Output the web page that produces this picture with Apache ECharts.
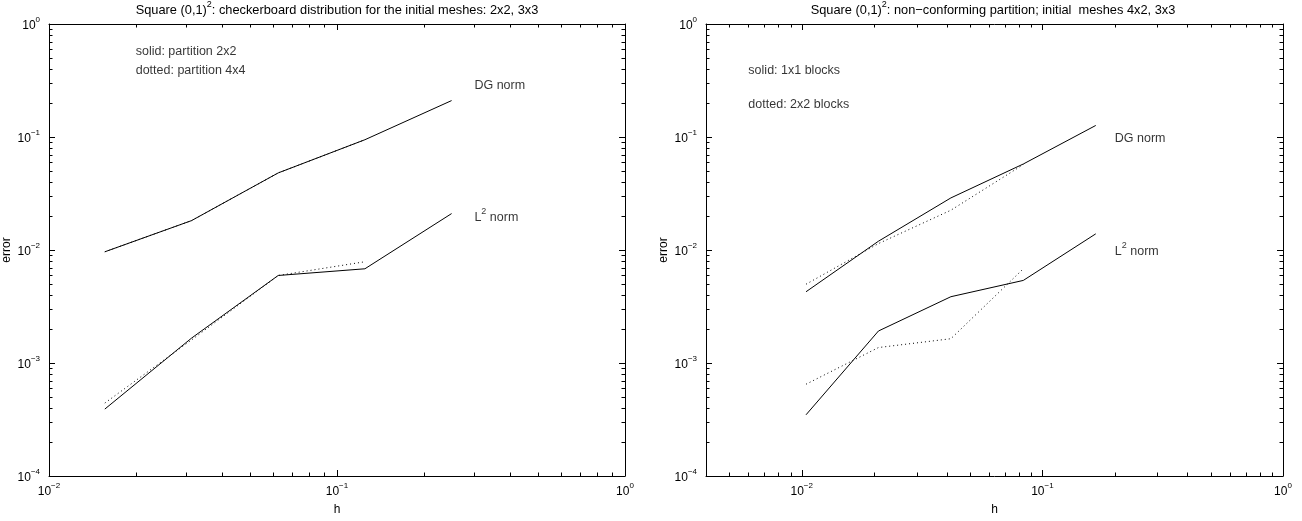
<!DOCTYPE html>
<html>
<head>
<meta charset="utf-8">
<script src="https://cdn.jsdelivr.net/npm/echarts@6/dist/echarts.min.js"></script>
<style>
  html, body { margin: 0; padding: 0; background: #fff; }
  #chart { width: 1302px; height: 521px; }
</style>
</head>
<body>
<div id="chart"></div>
<script>
// Mesh sizes h of the refinement sequences
const hLeft = [1/64, 1/32, 1/16, 1/8, 1/4];
const hRight = [1/96, 1/48, 1/24, 1/12, 1/6];

// Checkerboard distribution: solid = partition 2x2, dotted = partition 4x4
const dgSolidL = [0.00964, 0.0182, 0.0481, 0.0946, 0.210];
const l2SolidL = [0.000391, 0.00166, 0.00595, 0.00682, 0.0210];
const dgDottedL = [0.00964, 0.0182, 0.0481, 0.0946];
const l2DottedL = [0.000442, 0.00160, 0.00595, 0.00787];

// Non-conforming partition: solid = 1x1 blocks, dotted = 2x2 blocks
const dgSolidR = [0.00427, 0.01196, 0.0289, 0.0577, 0.1265];
const l2SolidR = [0.000348, 0.00192, 0.00386, 0.00538, 0.0139];
const dgDottedR = [0.00498, 0.0114, 0.0225, 0.057];
const l2DottedR = [0.000649, 0.00137, 0.00164, 0.00682];

// Axis ranges
const xRangeL = [0.01, 1];
const xRangeR = [0.004, 1];
const yRange = [1e-4, 1];

// Text notes placed in data coordinates
const notesL = [
  { x: 0.02, y: 0.6, text: '{n|solid: partition 2x2}' },
  { x: 0.02, y: 0.4, text: '{n|dotted: partition 4x4}' },
  { x: 0.3, y: 0.3, text: '{n|DG norm}' },
  { x: 0.3, y: 0.02, text: '{n|L}{s|2}{n| norm}' }
];
const notesR = [
  { x: 0.006, y: 0.4, text: '{n|solid: 1x1 blocks}' },
  { x: 0.006, y: 0.2, text: '{n|dotted: 2x2 blocks}' },
  { x: 0.2, y: 0.1, text: '{n|DG norm}' },
  { x: 0.2, y: 0.01, text: '{n|L}{s|2}{n| norm}' }
];

const titleL = '{t|Square (0,1)}{s|2}{t|: checkerboard distribution for the initial meshes: 2x2, 3x3}';
const titleR = '{t|Square (0,1)}{s|2}{t|: non\u2212conforming partition; initial  meshes 4x2, 3x3}';

const FONT = '"Liberation Sans", Arial, Helvetica, sans-serif';
const zip = (xs, ys) => ys.map((y, i) => [xs[i], y]);

// minor tick values 2..9 x 10^k inside a range
function minorValues(lo, hi) {
  const out = [];
  for (let k = Math.floor(Math.log10(lo)); k < Math.ceil(Math.log10(hi)); k++) {
    for (let m = 2; m <= 9; m++) {
      const v = m * Math.pow(10, k);
      if (v > lo * 1.0001 && v < hi * 0.9999) out.push(v);
    }
  }
  return out;
}

function minorTickData(xr) {
  const xs = minorValues(xr[0], xr[1]).map(v => [v, 0.01, 0]);
  const ys = minorValues(yRange[0], yRange[1]).map(v => [0.1, v, 1]);
  return xs.concat(ys);
}

function renderMinor(params, api) {
  const cs = params.coordSys;
  const len = 3.5;
  const style = { stroke: '#000', lineWidth: 1 };
  const p = api.coord([api.value(0), api.value(1)]);
  if (api.value(2) === 0) {
    const px = Math.round(p[0]) + 0.5;
    return { type: 'group', children: [
      { type: 'line', shape: { x1: px, y1: cs.y + cs.height, x2: px, y2: cs.y + cs.height - len }, style },
      { type: 'line', shape: { x1: px, y1: cs.y, x2: px, y2: cs.y + len }, style }
    ]};
  }
  const py = Math.round(p[1]) + 0.5;
  return { type: 'group', children: [
    { type: 'line', shape: { x1: cs.x, y1: py, x2: cs.x + len, y2: py }, style },
    { type: 'line', shape: { x1: cs.x + cs.width, y1: py, x2: cs.x + cs.width - len, y2: py }, style }
  ]};
}

const supRich = {
  b: { fontSize: 12, fontFamily: FONT, color: '#000', lineHeight: 16, verticalAlign: 'bottom' },
  e: { fontSize: 8, fontFamily: FONT, color: '#000', lineHeight: 16, verticalAlign: 'top' }
};

function decadeLabel(v) {
  const l = Math.log10(v);
  const r = Math.round(l);
  if (Math.abs(l - r) > 1e-6) return '';
  const exp = r < 0 ? '\u2212' + (-r) : String(r);
  return '{b|10}{e|' + exp + '}';
}

function xAxisPair(gridIndex, range) {
  const common = {
    type: 'log', logBase: 10, gridIndex, min: range[0], max: range[1],
    axisLine: { show: true, onZero: false, lineStyle: { color: '#000', width: 1 } },
    axisTick: { show: true, inside: true, length: 6, lineStyle: { color: '#000' } },
    splitLine: { show: false }
  };
  return [
    Object.assign({}, common, {
      position: 'bottom', name: 'h', nameLocation: 'middle', nameGap: 28,
      nameTextStyle: { fontSize: 12, fontFamily: FONT, color: '#000' },
      axisLabel: { show: true, margin: 6, formatter: decadeLabel, rich: supRich, showMinLabel: true, showMaxLabel: true }
    }),
    Object.assign({}, common, { position: 'top', axisLabel: { show: false } })
  ];
}

function yAxisPair(gridIndex) {
  const common = {
    type: 'log', logBase: 10, gridIndex, min: yRange[0], max: yRange[1],
    axisLine: { show: true, onZero: false, lineStyle: { color: '#000', width: 1 } },
    axisTick: { show: true, inside: true, length: 6, lineStyle: { color: '#000' } },
    splitLine: { show: false }
  };
  return [
    Object.assign({}, common, {
      position: 'left', name: 'error', nameLocation: 'middle', nameGap: 36,
      nameTextStyle: { fontSize: 12, fontFamily: FONT, color: '#000' },
      axisLabel: { show: true, margin: 9, formatter: decadeLabel, rich: supRich, showMinLabel: true, showMaxLabel: true }
    }),
    Object.assign({}, common, { position: 'right', axisLabel: { show: false } })
  ];
}

function lineSeries(xi, yi, data, dotted) {
  return {
    type: 'line', xAxisIndex: xi, yAxisIndex: yi, data,
    symbol: 'none', silent: true, animation: false,
    lineStyle: { color: '#000', width: 1, type: dotted ? [1, 3] : 'solid' }
  };
}

function noteSeries(xi, yi, notes) {
  return {
    type: 'scatter', xAxisIndex: xi, yAxisIndex: yi, silent: true, animation: false,
    symbolSize: 0,
    data: notes.map(n => ({ value: [n.x, n.y], label: { formatter: n.text } })),
    label: {
      show: true, position: 'right', distance: 0, color: '#000',
      rich: {
        n: { fontSize: 12.5, fontFamily: FONT, color: '#000', lineHeight: 17, verticalAlign: 'bottom' },
        s: { fontSize: 9, fontFamily: FONT, color: '#000', lineHeight: 17, verticalAlign: 'top' }
      }
    }
  };
}

function minorSeries(xi, yi, xr) {
  return {
    type: 'custom', xAxisIndex: xi, yAxisIndex: yi, silent: true, animation: false,
    renderItem: renderMinor, data: minorTickData(xr), clip: false
  };
}

const titleRich = {
  t: { fontSize: 12.8, fontWeight: 'normal', fontFamily: FONT, color: '#000', lineHeight: 17, verticalAlign: 'bottom' },
  s: { fontSize: 9, fontWeight: 'normal', fontFamily: FONT, color: '#000', lineHeight: 17, verticalAlign: 'top' }
};

const chart = echarts.init(document.getElementById('chart'), null, { renderer: 'canvas' });
chart.setOption({
  backgroundColor: '#fff',
  animation: false,
  title: [
    { text: titleL, left: 337, top: 0, padding: 0, textAlign: 'center', textStyle: { fontWeight: 'normal', rich: titleRich } },
    { text: titleR, left: 993, top: 0, padding: 0, textAlign: 'center', textStyle: { fontWeight: 'normal', rich: titleRich } }
  ],
  grid: [
    { left: 49, top: 24, width: 576, height: 453 },
    { left: 706, top: 24, width: 577, height: 453 }
  ],
  xAxis: xAxisPair(0, xRangeL).concat(xAxisPair(1, xRangeR)),
  yAxis: yAxisPair(0).concat(yAxisPair(1)),
  series: [
    lineSeries(0, 0, zip(hLeft, dgSolidL), false),
    lineSeries(0, 0, zip(hLeft, l2SolidL), false),
    lineSeries(0, 0, zip(hLeft, dgDottedL), true),
    lineSeries(0, 0, zip(hLeft, l2DottedL), true),
    noteSeries(0, 0, notesL),
    minorSeries(0, 0, xRangeL),
    lineSeries(2, 2, zip(hRight, dgSolidR), false),
    lineSeries(2, 2, zip(hRight, l2SolidR), false),
    lineSeries(2, 2, zip(hRight, dgDottedR), true),
    lineSeries(2, 2, zip(hRight, l2DottedR), true),
    noteSeries(2, 2, notesR),
    minorSeries(2, 2, xRangeR)
  ]
});
</script>
</body>
</html>
